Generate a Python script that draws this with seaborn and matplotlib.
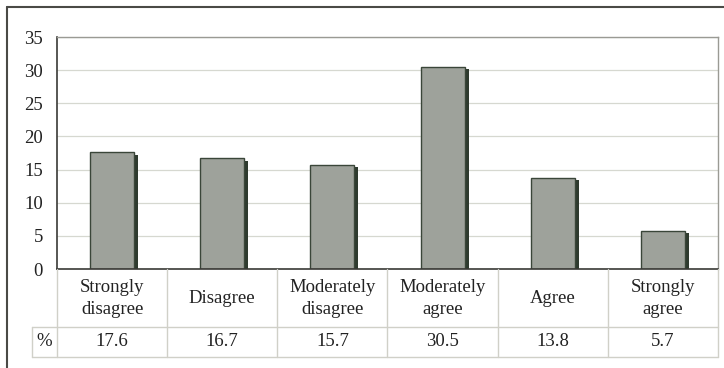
import matplotlib
matplotlib.use("Agg")
import matplotlib.pyplot as plt
import matplotlib.patheffects as pe
import matplotlib.transforms as mtransforms
from matplotlib.lines import Line2D
import seaborn as sns
import pandas as pd

categories = ["Strongly\ndisagree", "Disagree", "Moderately\ndisagree",
              "Moderately\nagree", "Agree", "Strongly\nagree"]
values = [17.6, 16.7, 15.7, 30.5, 13.8, 5.7]
value_labels = ["17.6", "16.7", "15.7", "30.5", "13.8", "5.7"]
yticks = [0, 5, 10, 15, 20, 25, 30, 35]

sns.set_style("white")
plt.rcParams['font.family'] = ['Liberation Serif', 'DejaVu Serif']

W, H = 724, 368
fig = plt.figure(figsize=(W / 100, H / 100), dpi=100)

def fx(px):
    return px / W

def fy(py):
    return 1 - py / H

FS = 13.5
ax_left, ax_right, ax_top, ax_bottom = 57, 718, 37, 269
ax = fig.add_axes([fx(ax_left), fy(ax_bottom), fx(ax_right - ax_left), (ax_bottom - ax_top) / H])

df = pd.DataFrame({"cat": categories, "val": values})
sns.barplot(data=df, x="cat", y="val", ax=ax, width=0.4, color="#9ea29b",
            edgecolor="#3a4639", linewidth=1.0, saturation=1)

for p in ax.patches:
    p.set_path_effects([pe.SimplePatchShadow(offset=(2.9, -1.6), shadow_rgbFace="#2e3a2e", alpha=1.0),
                        pe.Normal()])

ax.set_ylim(0, 35)
ax.set_xlim(-0.5, len(categories) - 0.5)
ax.set_yticks(yticks)
ax.set_yticklabels([str(t) for t in yticks], fontsize=FS)
ax.tick_params(axis="y", length=0, pad=10, colors="#222222")
ax.set_xticks([])
ax.set_xlabel("")
ax.set_ylabel("")
ax.yaxis.grid(True, color="#d6d8d0", linewidth=0.9)
ax.set_axisbelow(True)
for s in ["top", "right"]:
    ax.spines[s].set_color("#9a9a94")
    ax.spines[s].set_linewidth(1.0)
for s in ["left", "bottom"]:
    ax.spines[s].set_color("#3a3a36")
    ax.spines[s].set_linewidth(1.2)

# Data table below the plot
row_mid, row_bot = 327, 357
lc = "#d0d0c8"
bt = mtransforms.blended_transform_factory(ax.transData, fig.transFigure)
n = len(categories)
fig.add_artist(Line2D([fx(32), fx(ax_right)], [fy(row_mid), fy(row_mid)], color=lc, lw=1.0))
fig.add_artist(Line2D([fx(32), fx(ax_right)], [fy(row_bot), fy(row_bot)], color=lc, lw=1.0))
fig.add_artist(Line2D([fx(32), fx(32)], [fy(row_mid), fy(row_bot)], color=lc, lw=1.0))
fig.add_artist(Line2D([fx(ax_left), fx(ax_left)], [fy(ax_bottom), fy(row_bot)], color=lc, lw=1.0))
for i in range(n):
    b = i + 0.5
    fig.add_artist(Line2D([b, b], [fy(ax_bottom), fy(row_bot)], color=lc, lw=1.0, transform=bt))
for i, (c, v) in enumerate(zip(categories, value_labels)):
    fig.text(i, fy(298.5), c, transform=bt, ha="center", va="center", fontsize=FS,
             color="#222222", linespacing=1.42)
    fig.text(i, fy(342), v, transform=bt, ha="center", va="center", fontsize=FS, color="#222222")
fig.text(fx(44), fy(342), "%", ha="center", va="center", fontsize=FS, color="#222222")

# Outer frame (top and left visible)
fig.add_artist(Line2D([fx(7), 1], [fy(6.5), fy(6.5)], color="#4a4a46", lw=1.5))
fig.add_artist(Line2D([fx(7), fx(7)], [fy(6.5), 0], color="#4a4a46", lw=1.5))

fig.savefig("out.png", dpi=100)
